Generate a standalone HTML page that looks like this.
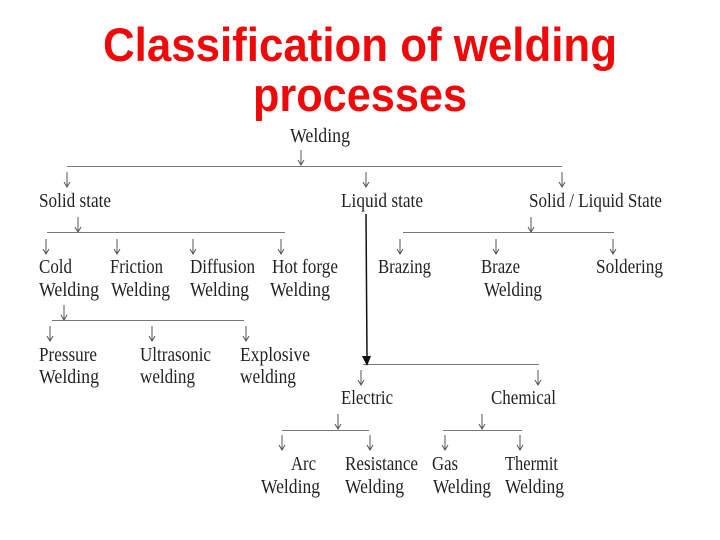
<!DOCTYPE html>
<html><head><meta charset="utf-8"><style>
html,body{margin:0;padding:0;background:#fff;width:720px;height:540px;overflow:hidden}
svg{display:block}
.t{font-family:"Liberation Serif",serif;font-size:19.5px;fill:#222}
.h{font-family:"Liberation Sans",sans-serif;font-weight:bold;font-size:47px;fill:#ee0a0a}
</style></head><body>
<svg width="720" height="540" viewBox="0 0 720 540" xmlns="http://www.w3.org/2000/svg">
<defs>
<g id="a"><line x1="0" y1="0" x2="0" y2="15" stroke="#555" stroke-width="1"/><polyline points="-3,10 0,15 3,10" fill="none" stroke="#555" stroke-width="1"/></g>
</defs>
<text class="h" x="103" y="61" textLength="514" lengthAdjust="spacingAndGlyphs">Classification of welding</text>
<text class="h" x="253" y="111" textLength="214" lengthAdjust="spacingAndGlyphs">processes</text>

<g stroke="#777" stroke-width="1" fill="none">
<line x1="67" y1="166.5" x2="562" y2="166.5"/>
<line x1="47" y1="232.5" x2="285" y2="232.5"/>
<line x1="403" y1="232.5" x2="614" y2="232.5"/>
<line x1="52" y1="320.5" x2="244" y2="320.5"/>
<line x1="363" y1="364.5" x2="539" y2="364.5"/>
<line x1="282" y1="430.5" x2="369" y2="430.5"/>
<line x1="443" y1="430.5" x2="522" y2="430.5"/>
</g>
<line x1="366" y1="214" x2="367" y2="358" stroke="#111" stroke-width="1.5"/>
<polygon points="362,356 371,356 367,366" fill="#111"/>

<use href="#a" x="301" y="150"/>
<use href="#a" x="67" y="172"/><use href="#a" x="366" y="172"/><use href="#a" x="562" y="172"/>
<use href="#a" x="78" y="217"/>
<use href="#a" x="531" y="217"/>
<use href="#a" x="46" y="239"/><use href="#a" x="117" y="239"/><use href="#a" x="193" y="239"/><use href="#a" x="281" y="239"/>
<use href="#a" x="400" y="239"/><use href="#a" x="496" y="239"/><use href="#a" x="613" y="239"/>
<use href="#a" x="64" y="305"/>
<use href="#a" x="50" y="326"/><use href="#a" x="152" y="326"/><use href="#a" x="246" y="326"/>
<use href="#a" x="361" y="370"/><use href="#a" x="538" y="370"/>
<use href="#a" x="338" y="414"/><use href="#a" x="482" y="414"/>
<use href="#a" x="282" y="435"/><use href="#a" x="370" y="435"/>
<use href="#a" x="445" y="435"/><use href="#a" x="520" y="435"/>

<g class="t">
<text x="290" y="142" textLength="60" lengthAdjust="spacingAndGlyphs">Welding</text>
<text x="39" y="207" textLength="72" lengthAdjust="spacingAndGlyphs">Solid state</text>
<text x="341" y="207" textLength="82" lengthAdjust="spacingAndGlyphs">Liquid state</text>
<text x="529" y="207" textLength="133" lengthAdjust="spacingAndGlyphs">Solid / Liquid State</text>

<text x="39" y="273" textLength="33" lengthAdjust="spacingAndGlyphs">Cold</text>
<text x="39" y="296" textLength="60" lengthAdjust="spacingAndGlyphs">Welding</text>
<text x="110" y="273" textLength="53" lengthAdjust="spacingAndGlyphs">Friction</text>
<text x="111" y="296" textLength="59" lengthAdjust="spacingAndGlyphs">Welding</text>
<text x="190" y="273" textLength="65" lengthAdjust="spacingAndGlyphs">Diffusion</text>
<text x="190" y="296" textLength="59" lengthAdjust="spacingAndGlyphs">Welding</text>
<text x="272" y="273" textLength="66" lengthAdjust="spacingAndGlyphs">Hot forge</text>
<text x="270" y="296" textLength="60" lengthAdjust="spacingAndGlyphs">Welding</text>

<text x="378" y="273" textLength="53" lengthAdjust="spacingAndGlyphs">Brazing</text>
<text x="481" y="273" textLength="39" lengthAdjust="spacingAndGlyphs">Braze</text>
<text x="484" y="296" textLength="58" lengthAdjust="spacingAndGlyphs">Welding</text>
<text x="596" y="273" textLength="67" lengthAdjust="spacingAndGlyphs">Soldering</text>

<text x="39" y="361" textLength="58" lengthAdjust="spacingAndGlyphs">Pressure</text>
<text x="39" y="383" textLength="60" lengthAdjust="spacingAndGlyphs">Welding</text>
<text x="140" y="361" textLength="71" lengthAdjust="spacingAndGlyphs">Ultrasonic</text>
<text x="140" y="383" textLength="55" lengthAdjust="spacingAndGlyphs">welding</text>
<text x="240" y="361" textLength="70" lengthAdjust="spacingAndGlyphs">Explosive</text>
<text x="240" y="383" textLength="56" lengthAdjust="spacingAndGlyphs">welding</text>

<text x="341" y="404" textLength="52" lengthAdjust="spacingAndGlyphs">Electric</text>
<text x="491" y="404" textLength="65" lengthAdjust="spacingAndGlyphs">Chemical</text>

<text x="291" y="470" textLength="25" lengthAdjust="spacingAndGlyphs">Arc</text>
<text x="261" y="493" textLength="59" lengthAdjust="spacingAndGlyphs">Welding</text>
<text x="345" y="470" textLength="73" lengthAdjust="spacingAndGlyphs">Resistance</text>
<text x="345" y="493" textLength="59" lengthAdjust="spacingAndGlyphs">Welding</text>
<text x="432" y="470" textLength="26" lengthAdjust="spacingAndGlyphs">Gas</text>
<text x="433" y="493" textLength="58" lengthAdjust="spacingAndGlyphs">Welding</text>
<text x="505" y="470" textLength="53" lengthAdjust="spacingAndGlyphs">Thermit</text>
<text x="505" y="493" textLength="59" lengthAdjust="spacingAndGlyphs">Welding</text>
</g>
</svg>
</body></html>
